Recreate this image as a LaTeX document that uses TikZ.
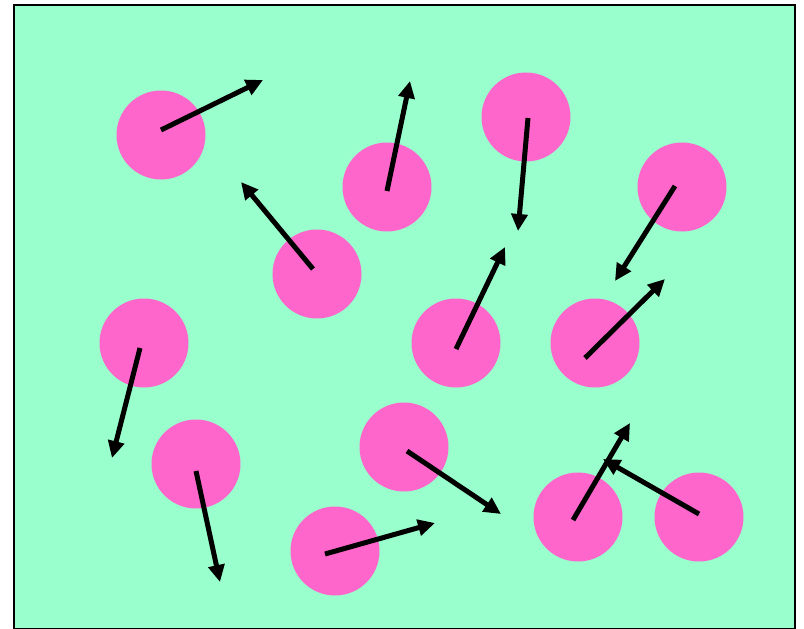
\documentclass[tikz,border=0pt]{standalone}
\usetikzlibrary{arrows.meta}
\definecolor{bgmint}{HTML}{99FFCC}
\definecolor{ballpink}{HTML}{FF66CC}
\begin{document}
\begin{tikzpicture}[x=1pt,y=-1pt,
  ball/.style={circle,fill=ballpink,minimum size=89pt,inner sep=0pt},
  vec/.style={line width=5pt,-{Triangle[length=17pt,width=16pt]}},
  frame/.style={draw=black,line width=2pt,fill=bgmint}]
\useasboundingbox (0,0) rectangle (804,629);
\node[frame,minimum width=781pt,minimum height=624pt,inner sep=0pt,anchor=north west] (box) at (13,4) {};
% balls
\node[ball] (c1) at (161,135) {};
\node[ball] (c2) at (387,187) {};
\node[ball] (c3) at (526,117) {};
\node[ball] (c4) at (682,187) {};
\node[ball] (c5) at (317,274) {};
\node[ball] (c6) at (144,343) {};
\node[ball] (c7) at (456,343) {};
\node[ball] (c8) at (595,343) {};
\node[ball] (c9) at (196,464) {};
\node[ball] (c10) at (404,447) {};
\node[ball] (c11) at (335,551) {};
\node[ball] (c12) at (578,517) {};
\node[ball] (c13) at (699,517) {};
% velocity tips
\coordinate (t1) at (263,80);
\coordinate (t2) at (410,81);
\coordinate (t3) at (518,231);
\coordinate (t4) at (615,281);
\coordinate (t5) at (241,182);
\coordinate (t6) at (112,458);
\coordinate (t7) at (505,247);
\coordinate (t8) at (665,279);
\coordinate (t9) at (220,582);
\coordinate (t10) at (501,514);
\coordinate (t11) at (435,523);
\coordinate (t12) at (630,423);
\coordinate (t13) at (603,459);
% velocity arrows
\draw[vec] ([shift={(0,-5)}]c1.center) -- (t1);
\draw[vec] ([shift={(0,4)}]c2.center) -- (t2);
\draw[vec] ([shift={(2,1)}]c3.center) -- (t3);
\draw[vec] ([shift={(-7,-1)}]c4.center) -- (t4);
\draw[vec] ([shift={(-4,-5)}]c5.center) -- (t5);
\draw[vec] ([shift={(-4,5)}]c6.center) -- (t6);
\draw[vec] ([shift={(0,6)}]c7.center) -- (t7);
\draw[vec] ([shift={(-10,15)}]c8.center) -- (t8);
\draw[vec] ([shift={(0,7)}]c9.center) -- (t9);
\draw[vec] ([shift={(3,4)}]c10.center) -- (t10);
\draw[vec] ([shift={(-10,3)}]c11.center) -- (t11);
\draw[vec] ([shift={(-5,3)}]c12.center) -- (t12);
\draw[vec] ([shift={(0,-3)}]c13.center) -- (t13);
\end{tikzpicture}
\end{document}
